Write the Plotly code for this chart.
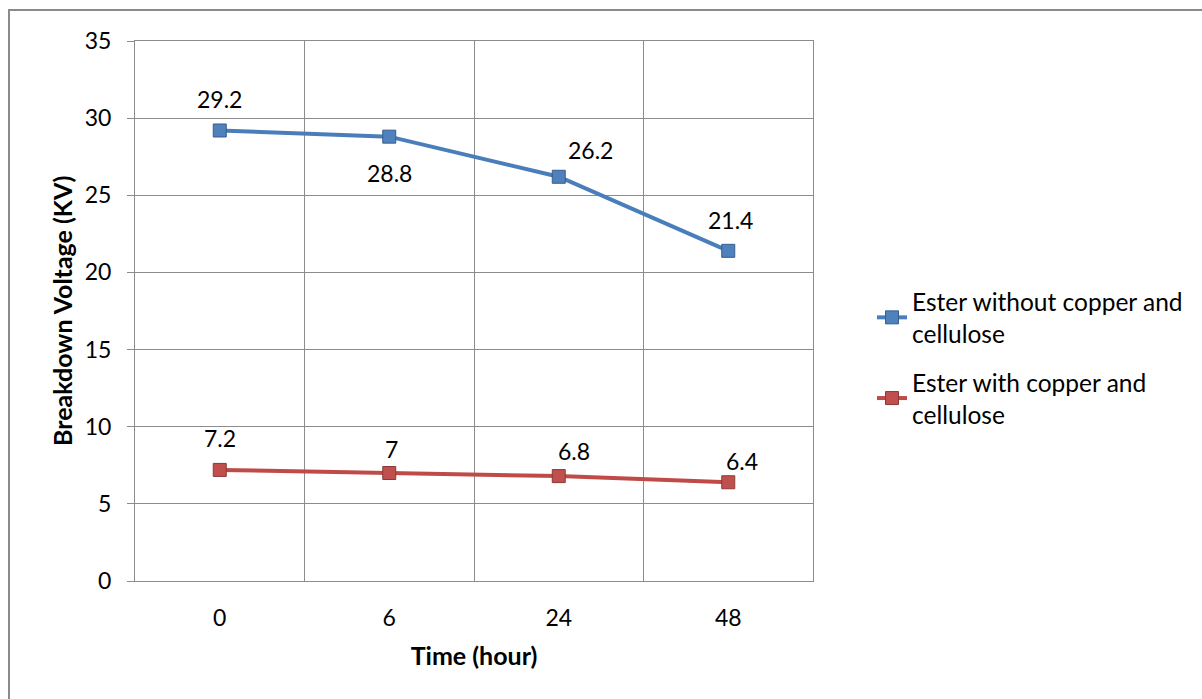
import plotly.graph_objects as go

categories = ["0", "6", "24", "48"]
series1_name = "Ester without copper and<br>cellulose"
series1_values = [29.2, 28.8, 26.2, 21.4]
series2_name = "Ester with copper and<br>cellulose"
series2_values = [7.2, 7.0, 6.8, 6.4]
y_ticks = [0, 5, 10, 15, 20, 25, 30, 35]

# label offsets (pixels) for data labels
s1_offsets = [(0, 31), (0, -36), (32, 27), (2, 31)]
s2_offsets = [(0, 32), (2, 24), (15, 25), (14, 21)]

FONT = "Lato"
GRID = "#8c8c8c"

fig = go.Figure()
fig.add_trace(go.Scatter(
    x=categories, y=series1_values, name=series1_name, mode="lines+markers",
    legendgroup="g1",
    line=dict(color="#4A7EBB", width=4),
    marker=dict(symbol="square", size=13, color="#4F81BD", line=dict(color="#385D8A", width=1)),
))
fig.add_trace(go.Scatter(
    x=categories, y=series2_values, name=series2_name, mode="lines+markers",
    legendgroup="g2",
    line=dict(color="#BE4B48", width=4),
    marker=dict(symbol="square", size=13, color="#C0504D", line=dict(color="#8C3836", width=1)),
))

annotations = []
for vals, offs in ((series1_values, s1_offsets), (series2_values, s2_offsets)):
    for i, (v, (dx, dy)) in enumerate(zip(vals, offs)):
        annotations.append(dict(
            x=i, y=v, xref="x", yref="y", text=f"{v:g}", showarrow=False,
            xshift=dx, yshift=dy, font=dict(family=FONT, size=23, color="#000")))

annotations.append(dict(
    x=(62 - 135) / 678, y=0.5, xref="paper", yref="paper",
    xanchor="center", yanchor="middle",
    text="<b>Breakdown Voltage (KV)</b>", textangle=-90, showarrow=False,
    font=dict(family=FONT, size=25, color="#000")))

fig.update_layout(
    width=1202, height=699,
    margin=dict(l=135, r=389, t=41, b=118),
    paper_bgcolor="white", plot_bgcolor="white",
    font=dict(family=FONT, size=22, color="#000"),
    showlegend=True,
    legend=dict(x=(872 - 135) / 678, y=(581 - 279) / 540, xanchor="left", yanchor="top",
                font=dict(family=FONT, size=24.5, color="#000"),
                tracegroupgap=14, bgcolor="rgba(0,0,0,0)"),
    annotations=annotations,
    shapes=[dict(type="rect", xref="paper", yref="paper",
                 x0=(9 - 135) / 678, x1=(1220 - 135) / 678,
                 y0=(581 - 720) / 540, y1=(581 - 10) / 540,
                 line=dict(color="#8a8a8a", width=2), layer="below")],
)
fig.update_xaxes(
    type="category", categoryorder="array", categoryarray=categories,
    range=[-0.5, 3.5], tickson="boundaries", showgrid=True, gridcolor=GRID, gridwidth=1,
    showline=True, linecolor=GRID, linewidth=1, mirror=True, ticks="",
    tickfont=dict(family=FONT, size=23), ticklabelstandoff=16,
    title=dict(text="<b>Time (hour)</b>", font=dict(family=FONT, size=25), standoff=17),
)
fig.update_yaxes(
    range=[0, 35], tickvals=y_ticks, showgrid=True, gridcolor=GRID, gridwidth=1,
    showline=True, linecolor=GRID, linewidth=1, mirror=True,
    ticks="outside", ticklen=7, tickcolor=GRID, zeroline=False,
    tickfont=dict(family=FONT, size=23), ticklabelstandoff=11,
)

fig.write_html("out.html")
